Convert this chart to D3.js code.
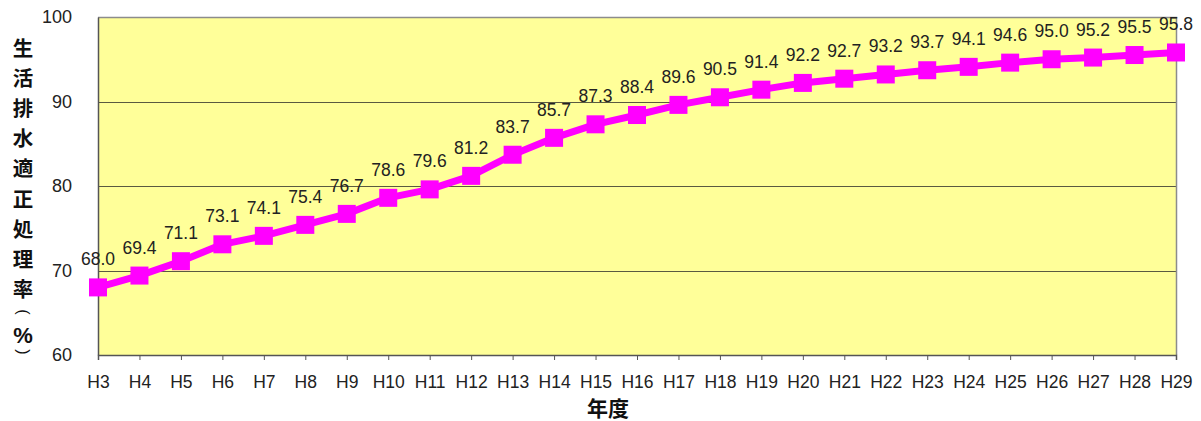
<!DOCTYPE html>
<html>
<head>
<meta charset="utf-8">
<script src="https://cdn.jsdelivr.net/npm/d3@7"></script>
<style>
  html, body { margin: 0; padding: 0; background: #fff; }
  svg { display: block; }
</style>
</head>
<body>
<svg id="chart" width="1201" height="421"></svg>
<script>
// Fiscal years (Heisei era) and the domestic wastewater proper-treatment rate (%)
const years = ["H3","H4","H5","H6","H7","H8","H9","H10","H11","H12","H13","H14","H15",
               "H16","H17","H18","H19","H20","H21","H22","H23","H24","H25","H26","H27","H28","H29"];
const rates = [68.0, 69.4, 71.1, 73.1, 74.1, 75.4, 76.7, 78.6, 79.6, 81.2, 83.7, 85.7, 87.3,
               88.4, 89.6, 90.5, 91.4, 92.2, 92.7, 93.2, 93.7, 94.1, 94.6, 95.0, 95.2, 95.5, 95.8];
const yTicks = [60, 70, 80, 90, 100];
const yTitleChars = ["生","活","排","水","適","正","処","理","率"];
const yTitleUnit = ["(", "%", ")"];
const xTitle = "年度";

const svg = d3.select("#chart");
const plot = { left: 98, right: 1176, top: 17, bottom: 355 };
const font = "'Liberation Sans', Arial, sans-serif";
const cjk = "'Noto Sans CJK JP', sans-serif";

const x = d3.scalePoint().domain(years).range([plot.left, plot.right]);
const y = d3.scaleLinear().domain([60, 100]).range([plot.bottom, plot.top]);

// Plot background
svg.append("rect")
  .attr("x", plot.left).attr("y", plot.top)
  .attr("width", plot.right - plot.left).attr("height", plot.bottom - plot.top)
  .attr("fill", "#ffff99");

// Horizontal gridlines
svg.append("g")
  .selectAll("line")
  .data(yTicks.filter(d => d > 60 && d < 100))
  .join("line")
  .attr("x1", plot.left).attr("x2", plot.right)
  .attr("y1", d => Math.round(y(d)) + 0.5).attr("y2", d => Math.round(y(d)) + 0.5)
  .attr("stroke", "#5a5a40").attr("stroke-width", 1.2);

// Frame: top and right edges
svg.append("path")
  .attr("d", `M${plot.left},${plot.top + 0.5}H${plot.right + 0.5}V${plot.bottom}`)
  .attr("fill", "none").attr("stroke", "#8c8c8c").attr("stroke-width", 1.5);

// Y axis
const yAxis = svg.append("g")
  .attr("transform", `translate(${plot.left},0)`)
  .call(d3.axisLeft(y).tickValues(yTicks).tickSize(0).tickPadding(26).tickFormat(d3.format("d")));
yAxis.select(".domain").attr("stroke", "#555").attr("stroke-width", 1.5);
yAxis.selectAll("text")
  .attr("font-family", font).attr("font-size", 18).attr("fill", "#222");

// X axis
const xAxis = svg.append("g")
  .attr("transform", `translate(0,${plot.bottom})`)
  .call(d3.axisBottom(x).tickSize(5).tickPadding(16));
xAxis.select(".domain").attr("stroke", "#555").attr("stroke-width", 1.5);
xAxis.selectAll(".tick line").attr("stroke", "#555");
xAxis.selectAll("text")
  .attr("font-family", font).attr("font-size", 17.5).attr("fill", "#222");

// Rate line
svg.append("path")
  .datum(rates)
  .attr("fill", "none")
  .attr("stroke", "#ff00ff")
  .attr("stroke-width", 7)
  .attr("stroke-linejoin", "round")
  .attr("d", d3.line().x((d, i) => x(years[i])).y(d => y(d)));

// Square markers
const m = 18;
svg.append("g")
  .selectAll("rect")
  .data(rates)
  .join("rect")
  .attr("x", (d, i) => x(years[i]) - m / 2)
  .attr("y", d => y(d) - m / 2)
  .attr("width", m).attr("height", m)
  .attr("fill", "#ff00ff");

// Value labels
svg.append("g")
  .selectAll("text")
  .data(rates)
  .join("text")
  .attr("x", (d, i) => x(years[i]))
  .attr("y", d => y(d) - 22)
  .attr("text-anchor", "middle")
  .attr("font-family", font).attr("font-size", 17.5).attr("fill", "#222")
  .text(d => d.toFixed(1));

// Y axis title, stacked one glyph per row
const titleX = 23;
svg.append("text")
  .attr("font-family", cjk).attr("font-weight", "bold")
  .attr("font-size", 20.5).attr("fill", "#111")
  .attr("text-anchor", "middle")
  .selectAll("tspan")
  .data(yTitleChars)
  .join("tspan")
  .attr("x", titleX)
  .attr("y", (d, i) => 56 + i * 30.1)
  .text(d => d);

// Unit "(%)" — brackets turned sideways as in vertical writing
const unitY = [312, 335, 352];
svg.append("g")
  .selectAll("text")
  .data(yTitleUnit)
  .join("text")
  .attr("transform", (d, i) => `translate(${titleX},${unitY[i]})` + (d === "%" ? "" : " rotate(90)"))
  .attr("text-anchor", "middle")
  .attr("dominant-baseline", "central")
  .attr("font-family", font)
  .attr("font-weight", d => d === "%" ? "bold" : "normal")
  .attr("font-size", d => d === "%" ? 22 : 16)
  .attr("fill", "#111")
  .text(d => d);

// X axis title
svg.append("text")
  .attr("x", 608).attr("y", 416)
  .attr("text-anchor", "middle")
  .attr("font-family", cjk).attr("font-weight", "bold")
  .attr("font-size", 21).attr("fill", "#111")
  .text(xTitle);
</script>
</body>
</html>
